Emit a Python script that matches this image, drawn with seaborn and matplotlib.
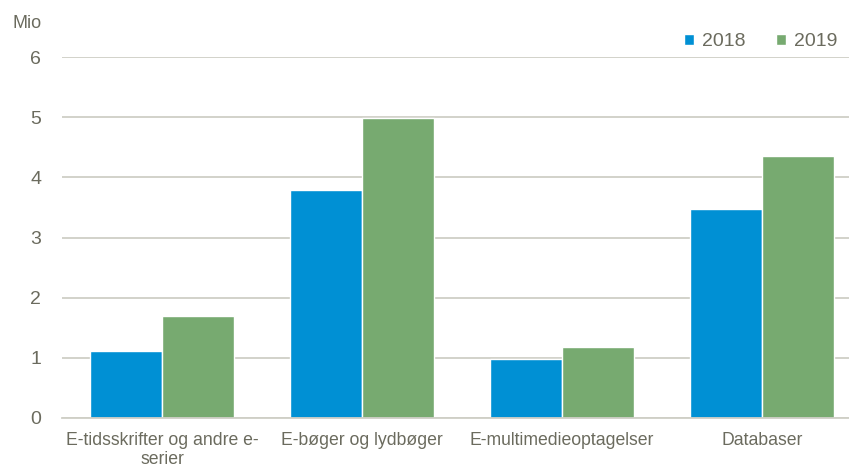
import pandas as pd
import numpy as np
import seaborn as sns
import matplotlib.pyplot as plt

# data (millions)
categories = ['E-tidsskrifter og andre e-\nserier', 'E-bøger og lydbøger',
              'E-multimedieoptagelser', 'Databaser']
years = ['2018', '2019']
values_2018 = [1.11, 3.79, 0.98, 3.47]
values_2019 = [1.69, 4.98, 1.18, 4.35]

df = pd.DataFrame({
    'Kategori': categories * 2,
    'År': [years[0]] * 4 + [years[1]] * 4,
    'Mio': values_2018 + values_2019,
})

sns.set_theme(style='white')
plt.rcParams['font.family'] = ['Liberation Sans', 'DejaVu Sans']
text_col = '#6b6b5e'
grid_col = '#cfcfc6'

fig = plt.figure(figsize=(8.49, 4.76), dpi=100)
ax = fig.add_axes([62/849, 58/476, 800/849, 361/476])

sns.barplot(data=df, x='Kategori', y='Mio', hue='År',
            palette=['#0090d4', '#77aa70'], width=0.72,
            edgecolor='white', linewidth=1, saturation=1, ax=ax)

ax.set_ylim(0, 6)
ax.set_xlim(-0.5, 3.5)
ax.set_yticks(range(0, 7))
ax.yaxis.grid(True, color=grid_col, linewidth=1.3)
ax.set_axisbelow(True)
for s in ['left', 'right', 'top']:
    ax.spines[s].set_visible(False)
ax.spines['bottom'].set_color(grid_col)
ax.spines['bottom'].set_linewidth(1.3)
ax.tick_params(axis='y', length=0, pad=15, labelsize=14, labelcolor=text_col)
ax.tick_params(axis='x', length=0, pad=10, labelsize=12.7, labelcolor=text_col)
ax.set_xlabel('')
ax.set_ylabel('')

fig.text(12/849, 1 - 23/476, 'Mio', fontsize=13, color=text_col, va='center', ha='left')

ax.legend(loc='center right', bbox_to_anchor=(855/849, 1 - 42/476),
          bbox_transform=fig.transFigure, ncol=2, frameon=False,
          fontsize=14, labelcolor=text_col, handlelength=0.55, handleheight=0.55,
          handletextpad=0.4, columnspacing=1.55)

fig.savefig('out.png', dpi=100)
